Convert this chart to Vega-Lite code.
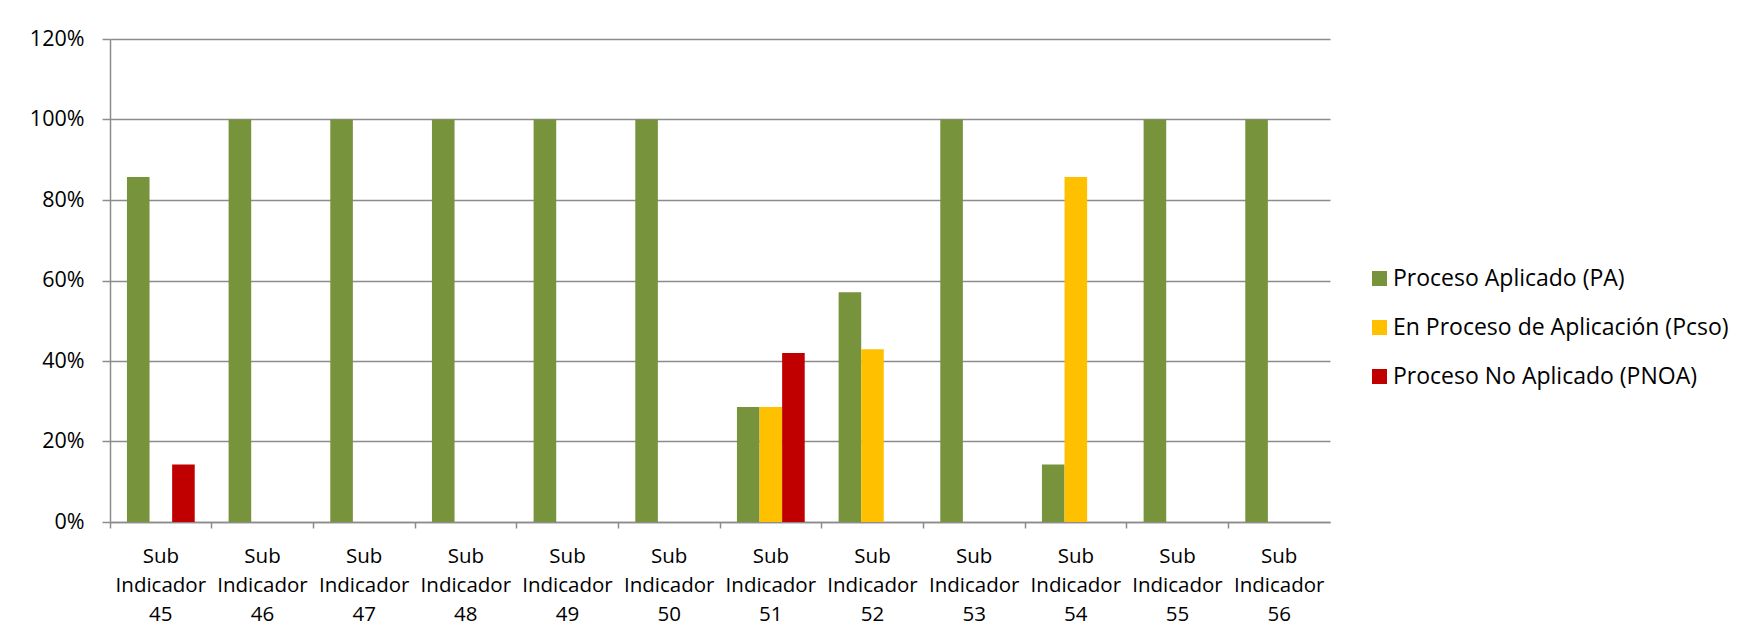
{
  "$schema": "https://vega.github.io/schema/vega-lite/v6.json",
  "autosize": {"type": "none"},
  "width": 1220,
  "height": 483,
  "padding": {"left": 110, "top": 39, "right": 417, "bottom": 119},
  "background": "white",
  "config": {
    "font": "Open Sans",
    "view": {"stroke": null}
  },
  "data": {
    "values": [
      {"indicador": "Sub Indicador 45", "serie": "Proceso Aplicado (PA)", "valor": 0.857},
      {"indicador": "Sub Indicador 45", "serie": "Proceso No Aplicado (PNOA)", "valor": 0.143},
      {"indicador": "Sub Indicador 46", "serie": "Proceso Aplicado (PA)", "valor": 1.0},
      {"indicador": "Sub Indicador 47", "serie": "Proceso Aplicado (PA)", "valor": 1.0},
      {"indicador": "Sub Indicador 48", "serie": "Proceso Aplicado (PA)", "valor": 1.0},
      {"indicador": "Sub Indicador 49", "serie": "Proceso Aplicado (PA)", "valor": 1.0},
      {"indicador": "Sub Indicador 50", "serie": "Proceso Aplicado (PA)", "valor": 1.0},
      {"indicador": "Sub Indicador 51", "serie": "Proceso Aplicado (PA)", "valor": 0.286},
      {"indicador": "Sub Indicador 51", "serie": "En Proceso de Aplicación (Pcso)", "valor": 0.286},
      {"indicador": "Sub Indicador 51", "serie": "Proceso No Aplicado (PNOA)", "valor": 0.42},
      {"indicador": "Sub Indicador 52", "serie": "Proceso Aplicado (PA)", "valor": 0.571},
      {"indicador": "Sub Indicador 52", "serie": "En Proceso de Aplicación (Pcso)", "valor": 0.429},
      {"indicador": "Sub Indicador 53", "serie": "Proceso Aplicado (PA)", "valor": 1.0},
      {"indicador": "Sub Indicador 54", "serie": "Proceso Aplicado (PA)", "valor": 0.143},
      {"indicador": "Sub Indicador 54", "serie": "En Proceso de Aplicación (Pcso)", "valor": 0.857},
      {"indicador": "Sub Indicador 55", "serie": "Proceso Aplicado (PA)", "valor": 1.0},
      {"indicador": "Sub Indicador 56", "serie": "Proceso Aplicado (PA)", "valor": 1.0}
    ]
  },
  "mark": {"type": "bar"},
  "encoding": {
    "x": {
      "field": "indicador",
      "type": "nominal",
      "sort": null,
      "scale": {"paddingInner": 0, "paddingOuter": 0},
      "axis": {
        "title": null,
        "bandPosition": 0,
        "labelAngle": 0,
        "labelExpr": "split(datum.label, ' ')",
        "labelFontSize": 20.5,
        "labelLineHeight": 29,
        "labelColor": "#000000",
        "labelPadding": 18,
        "labelBaseline": "top",
        "tickSize": 6,
        "tickColor": "#8c8c8c",
        "tickWidth": 1.5,
        "domainColor": "#8c8c8c",
        "domainWidth": 1.5,
        "grid": false
      }
    },
    "xOffset": {
      "field": "serie",
      "type": "nominal",
      "scale": {
        "domain": ["Proceso Aplicado (PA)", "En Proceso de Aplicación (Pcso)", "Proceso No Aplicado (PNOA)"],
        "paddingInner": 0,
        "paddingOuter": 0.75
      }
    },
    "y": {
      "field": "valor",
      "type": "quantitative",
      "scale": {"domain": [0, 1.2], "nice": false},
      "axis": {
        "title": null,
        "values": [0, 0.2, 0.4, 0.6, 0.8, 1.0, 1.2],
        "format": ".0%",
        "labelFontSize": 21.5,
        "labelColor": "#000000",
        "labelPadding": 18,
        "tickSize": 8,
        "tickColor": "#8c8c8c",
        "tickWidth": 1.5,
        "domainColor": "#8c8c8c",
        "domainWidth": 1.5,
        "gridColor": "#8c8c8c",
        "gridWidth": 1.5,
        "gridOpacity": 1
      }
    },
    "color": {
      "field": "serie",
      "type": "nominal",
      "scale": {
        "domain": ["Proceso Aplicado (PA)", "En Proceso de Aplicación (Pcso)", "Proceso No Aplicado (PNOA)"],
        "range": ["#77933C", "#FFC000", "#C00000"]
      },
      "legend": {
        "title": null,
        "orient": "none",
        "legendX": 1258,
        "legendY": 228,
        "padding": 0,
        "symbolType": "square",
        "symbolSize": 225,
        "symbolStrokeWidth": 0,
        "symbolOpacity": 1,
        "labelFontSize": 23,
        "labelColor": "#000000",
        "labelOffset": 2,
        "rowPadding": 25,
        "labelLimit": 400
      }
    }
  }
}
